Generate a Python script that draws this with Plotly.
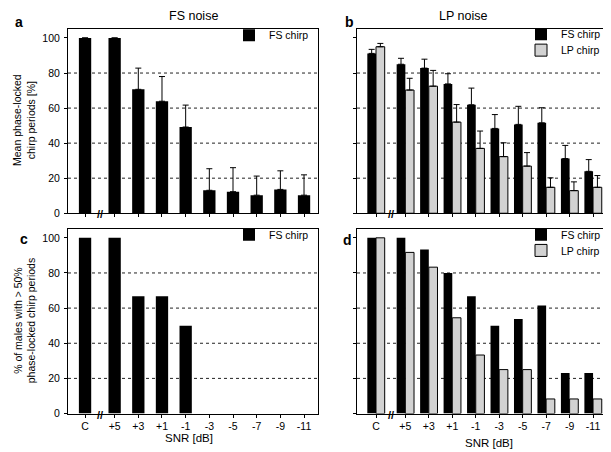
import plotly.graph_objects as go
from plotly.subplots import make_subplots

# ---------------- data ----------------
CATEGORIES = ["C", "+5", "+3", "+1", "-1", "-3", "-5", "-7", "-9", "-11"]
# axis positions of the categories (axis break between "C" and "+5")
CAT_POS = [0, 1.25, 2.25, 3.25, 4.25, 5.25, 6.25, 7.25, 8.25, 9.25]
BREAK_POS = 0.62

# a: FS noise, mean phase-locked chirp periods [%]  (no SD shown for C and +5)
A_FS = [100, 100, 70.7, 63.9, 49.2, 13.1, 12.3, 10.3, 13.6, 10.3]
A_FS_ERR = [None, None, 12.1, 14.1, 12.5, 12.3, 13.7, 10.9, 10.6, 11.6]

# b: LP noise, mean phase-locked chirp periods [%]
B_FS = [91.2, 85.0, 82.8, 73.8, 61.9, 48.4, 50.7, 51.6, 31.2, 23.9]
B_FS_ERR = [2.3, 3.4, 5.1, 5.8, 9.5, 7.9, 10.3, 8.6, 7.5, 6.7]
B_LP = [95.0, 70.3, 72.5, 52.0, 37.0, 32.3, 26.9, 14.8, 12.9, 14.8]
B_LP_ERR = [1.9, 6.7, 9.0, 10.0, 9.9, 7.9, 7.7, 5.4, 5.0, 6.7]

# c: FS noise, % of males with > 50% phase-locked chirp periods
C_FS = [100, 100, 66.7, 66.7, 50, 0, 0, 0, 0, 0]

# d: LP noise, % of males with > 50% phase-locked chirp periods
D_FS = [100, 100, 93.3, 80, 66.7, 50, 53.8, 61.5, 23.1, 23.1]
D_LP = [100, 91.7, 83.3, 54.5, 33.3, 25, 25, 8.3, 8.3, 8.3]

Y_TICKS = [0, 20, 40, 60, 80, 100]
GRID_VALUES = [20, 40, 60, 80]

# ---------------- style ----------------
W, H = 611, 452
FONT = "Liberation Sans, Arial, Helvetica, sans-serif"
BLACK = "#000000"
GRAY = "#d2d2d2"


def px(x):
    return x / W


def py(y):
    return 1 - y / H


fig = make_subplots(rows=2, cols=2)

SINGLE_W = 0.52
PAIR_W = 0.37

BLACK_MARKER = dict(color=BLACK, line=dict(color=BLACK, width=0))
GRAY_MARKER = dict(color=GRAY, line=dict(color=BLACK, width=1))


def err(vals):
    return dict(type="data", array=vals,
                arrayminus=[None if v is None else 0 for v in vals], symmetric=False,
                color=BLACK, thickness=1, width=3)


# panel a
fig.add_trace(go.Bar(x=CAT_POS, y=A_FS, name="FS chirp", width=SINGLE_W,
                     marker=BLACK_MARKER, error_y=err(A_FS_ERR), legend="legend"),
              row=1, col=1)
# panel b
fig.add_trace(go.Bar(x=CAT_POS, y=B_FS, name="FS chirp", width=PAIR_W, offset=-PAIR_W,
                     marker=BLACK_MARKER, error_y=err(B_FS_ERR), legend="legend2"),
              row=1, col=2)
fig.add_trace(go.Bar(x=CAT_POS, y=B_LP, name="LP chirp", width=PAIR_W, offset=0,
                     marker=GRAY_MARKER, error_y=err(B_LP_ERR), legend="legend5"),
              row=1, col=2)
# panel c
fig.add_trace(go.Bar(x=CAT_POS, y=C_FS, name="FS chirp", width=SINGLE_W,
                     marker=BLACK_MARKER, legend="legend3"), row=2, col=1)
# panel d
fig.add_trace(go.Bar(x=CAT_POS, y=D_FS, name="FS chirp", width=PAIR_W, offset=-PAIR_W,
                     marker=BLACK_MARKER, legend="legend4"), row=2, col=2)
fig.add_trace(go.Bar(x=CAT_POS, y=D_LP, name="LP chirp", width=PAIR_W, offset=0,
                     marker=GRAY_MARKER, legend="legend6"), row=2, col=2)

X_DOM_L = [px(60), px(310)]
X_DOM_R = [px(349), px(609)]
Y_DOM_T = [py(208), py(21.5)]
Y_DOM_B = [py(411), py(224)]
X_RANGE_L = [-0.72, 9.84]
X_RANGE_R = [-0.81, 10.27]

axis_common = dict(showline=True, linecolor=BLACK, linewidth=1, mirror=True,
                   ticks="outside", ticklen=3, tickwidth=1, tickcolor=BLACK,
                   showgrid=False, zeroline=False,
                   tickfont=dict(family=FONT, size=10.5, color=BLACK))

for r, c, xd, yd, xr, showx, showy in [
    (1, 1, X_DOM_L, Y_DOM_T, X_RANGE_L, False, True),
    (1, 2, X_DOM_R, Y_DOM_T, X_RANGE_R, False, False),
    (2, 1, X_DOM_L, Y_DOM_B, X_RANGE_L, True, True),
    (2, 2, X_DOM_R, Y_DOM_B, X_RANGE_R, True, False),
]:
    fig.update_xaxes(domain=xd, range=xr, tickmode="array", tickvals=CAT_POS,
                     ticktext=CATEGORIES, showticklabels=showx, row=r, col=c,
                     **axis_common)
    fig.update_yaxes(domain=yd, range=[0, 105], tickmode="array", tickvals=Y_TICKS,
                     showticklabels=showy, row=r, col=c, ticklabelstandoff=2,
                     **axis_common)

# dotted grid lines
shapes = []
for yref, xref in [("y", "x domain"), ("y2", "x2 domain"), ("y3", "x3 domain"), ("y4", "x4 domain")]:
    for g in GRID_VALUES:
        shapes.append(dict(type="line", xref=xref, yref=yref, x0=0, x1=1, y0=g, y1=g,
                           layer="below", line=dict(color="#222222", width=1, dash="dot")))

ann = []
# axis break marks
for xref, yref in [("x", "y"), ("x2", "y2"), ("x3", "y3"), ("x4", "y4")]:
    ann.append(dict(text="<b>//</b>", x=BREAK_POS, y=0, xref=xref, yref=yref, showarrow=False,
                    xanchor="center", yanchor="middle", yshift=-1,
                    font=dict(family=FONT, size=11, color=BLACK)))

# titles
ann.append(dict(text="FS noise", x=px(185), y=py(8), xref="paper", yref="paper",
                showarrow=False, xanchor="center", yanchor="middle",
                font=dict(family=FONT, size=12.5, color=BLACK)))
ann.append(dict(text="LP noise", x=px(455), y=py(8), xref="paper", yref="paper",
                showarrow=False, xanchor="center", yanchor="middle",
                font=dict(family=FONT, size=12.5, color=BLACK)))
# panel letters
for letter, x, y in [("a", 11, 14), ("b", 341, 14), ("c", 16, 234), ("d", 339, 235)]:
    ann.append(dict(text="<b>%s</b>" % letter, x=px(x), y=py(y), xref="paper", yref="paper",
                    showarrow=False, xanchor="center", yanchor="middle",
                    font=dict(family=FONT, size=14, color=BLACK)))
# y axis titles
ann.append(dict(text="Mean phase-locked<br>chirp periods [%]", x=px(16.5), y=py(114),
                xref="paper", yref="paper", showarrow=False, textangle=-90,
                xanchor="center", yanchor="middle",
                font=dict(family=FONT, size=10.5, color=BLACK)))
ann.append(dict(text="% of males with > 50%<br>phase-locked chirp periods", x=px(16.5),
                y=py(317), xref="paper", yref="paper", showarrow=False, textangle=-90,
                xanchor="center", yanchor="middle",
                font=dict(family=FONT, size=10.5, color=BLACK)))
# x axis titles
ann.append(dict(text="SNR [dB]", x=px(181), y=py(436), xref="paper", yref="paper",
                showarrow=False, xanchor="center", yanchor="middle",
                font=dict(family=FONT, size=11.5, color=BLACK)))
ann.append(dict(text="SNR [dB]", x=px(481), y=py(441), xref="paper", yref="paper",
                showarrow=False, xanchor="center", yanchor="middle",
                font=dict(family=FONT, size=11.5, color=BLACK)))

leg_common = dict(xanchor="left", yanchor="top", bgcolor="rgba(0,0,0,0)",
                  borderwidth=0, font=dict(family=FONT, size=10.5, color=BLACK),
                  tracegroupgap=0, itemclick=False)

LEG_X_L = 221
LEG_X_R = 513
LEG_OFF = 22

fig.update_layout(
    width=W, height=H, autosize=False,
    margin=dict(l=0, r=0, t=0, b=0),
    paper_bgcolor="white", plot_bgcolor="white",
    barmode="overlay",
    font=dict(family=FONT, color=BLACK),
    shapes=shapes, annotations=ann,
    showlegend=True,
    legend=dict(x=px(LEG_X_L), y=py(35 - LEG_OFF), **leg_common),
    legend2=dict(x=px(LEG_X_R), y=py(34 - LEG_OFF), **leg_common),
    legend5=dict(x=px(LEG_X_R), y=py(50 - LEG_OFF), **leg_common),
    legend3=dict(x=px(LEG_X_L), y=py(237 - LEG_OFF), **leg_common),
    legend4=dict(x=px(LEG_X_R), y=py(237 - LEG_OFF), **leg_common),
    legend6=dict(x=px(LEG_X_R), y=py(253 - LEG_OFF), **leg_common),
)

fig.write_html("out.html")
